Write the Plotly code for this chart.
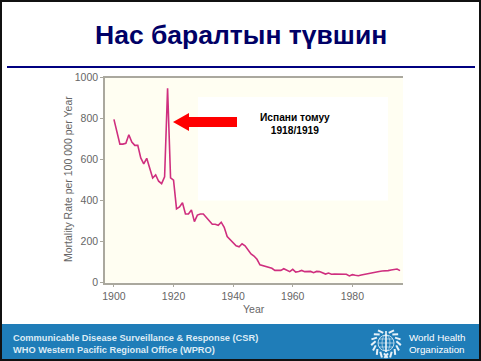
import plotly.graph_objects as go
import math

years = list(range(1900, 1997))
rate = [797, 735, 676, 676, 680, 722, 686, 670, 670, 609, 580, 607, 552, 511, 526, 495, 483, 516, 948,
        511, 500, 360, 370, 390, 335, 335, 355, 298, 330, 335, 335, 320, 300, 285, 285, 280, 295, 270, 225,
        210, 195, 180, 175, 190, 180, 160, 140, 130, 114, 87, 82, 78, 75, 70, 60, 59, 60, 68, 60,
        54, 65, 52, 55, 60, 54, 54, 55, 49, 55, 54, 47, 42, 47, 41, 42, 42, 44, 41, 41,
        33, 39, 36, 34, 38, 41, 44, 49, 52, 55, 55, 57, 57, 59, 62, 65, 67, 59]

x_ticks = [1900, 1920, 1940, 1960, 1980]
y_ticks = [0, 200, 400, 600, 800, 1000]
title = "Нас баралтын түвшин"
note = "Испани томуу<br>1918/1919"
x_label = "Year"
y_label = "Mortality Rate per 100 000 per Year"
footer = "Communicable Disease Surveillance & Response (CSR)<br>WHO Western Pacific Regional Office (WPRO)"
org_lines = ["World Health", "Organization"]

W, H = 481, 361
def px(v): return v / W
def py(v): return 1 - v / H

shapes = []
def rect(x0, y0, x1, y1, fill, line=None, width=0, layer="above"):
    shapes.append(dict(type="rect", xref="paper", yref="paper", x0=px(x0), x1=px(x1), y0=py(y0), y1=py(y1),
                       fillcolor=fill, line=dict(color=line or fill, width=width), layer=layer))

# slide frame, white panel in the plot, title rule, footer band
rect(1, 1, 480, 360, "rgba(0,0,0,0)", "#111111", 2, "below")
rect(198, 97, 388, 200.5, "#ffffff", layer="below")
shapes.append(dict(type="line", xref="paper", yref="paper", x0=px(7), x1=px(475), y0=py(67), y1=py(67),
                   line=dict(color="#000080", width=2)))
rect(2, 324, 479, 359, "#1f7db8")

# arrow
arrow = [(173, 122), (189, 113), (189, 117), (237, 117), (237, 127), (189, 127), (189, 131)]
shapes.append(dict(type="path", xref="paper", yref="paper",
                   path="M " + " L ".join(f"{px(a):.5f},{py(b):.5f}" for a, b in arrow) + " Z",
                   fillcolor="#ff0000", line=dict(width=0)))

# emblem
cx, cy = 386, 343
emblem = "#e8f2f9"
def circle(rx, ry, width):
    shapes.append(dict(type="circle", xref="paper", yref="paper", x0=px(cx-rx), x1=px(cx+rx), y0=py(cy-ry), y1=py(cy+ry),
                       line=dict(color=emblem, width=width)))
def seg(x0, y0, x1, y1, width, color=emblem):
    shapes.append(dict(type="line", xref="paper", yref="paper", x0=px(x0), x1=px(x1), y0=py(y0), y1=py(y1),
                       line=dict(color=color, width=width)))
circle(8, 8, 0.8)
circle(4, 8, 0.6)
seg(cx, cy-12, cx, cy+9, 1.5, "#ffffff")
seg(cx-8, cy, cx+8, cy, 0.6)
seg(cx-7, cy-4, cx+7, cy-4, 0.6)
seg(cx-7, cy+4, cx+7, cy+4, 0.6)
for s in (-1, 1):
    for k in range(8):
        a = math.radians(-75 + k * 22)
        x0 = cx + s * 10.5 * math.cos(a); y0 = cy + 10.5 * math.sin(a)
        x1 = cx + s * 15 * math.cos(a + 0.3); y1 = cy + 15 * math.sin(a + 0.3)
        seg(x0, y0, x1, y1, 2)

font = "Liberation Sans, Arial, sans-serif"
annotations = [
    dict(text=f"<b>{title}</b>", x=px(241), y=py(35), font=dict(size=26.5, color="#000066", family=font), xanchor="center"),
    dict(text=f"<b>{note}</b>", x=px(295), y=py(124), font=dict(size=10.2, color="#000000", family=font), xanchor="center"),
    dict(text=x_label, x=px(254), y=py(309), font=dict(size=10.5, color="#666666", family=font), xanchor="center"),
    dict(text=y_label, x=px(68), y=py(179), textangle=-90, font=dict(size=10.5, color="#666666", family=font), xanchor="center"),
    dict(text=f"<b>{footer}</b>", x=px(11), y=py(343.5), align="left", font=dict(size=9.25, color="#dcebf5", family=font), xanchor="left"),
    dict(text=org_lines[0], x=px(407), y=py(337.5), align="left", font=dict(size=9.8, color="#ffffff", family=font), xanchor="left"),
    dict(text=org_lines[1], x=px(407), y=py(349), align="left", font=dict(size=9.8, color="#ffffff", family=font), xanchor="left"),
]
for a in annotations:
    a.update(xref="paper", yref="paper", yanchor="middle", showarrow=False)

fig = go.Figure(go.Scatter(x=years, y=rate, mode="lines", line=dict(color="#cf2f7f", width=1.6), hoverinfo="skip"))
axis_font = dict(size=10.5, color="#666666", family=font)
fig.update_layout(
    width=W, height=H, margin=dict(l=0, r=0, t=0, b=0, autoexpand=False), showlegend=False,
    paper_bgcolor="#ffffff", plot_bgcolor="#fffef2",
    shapes=shapes, annotations=annotations,
    xaxis=dict(domain=[px(105), px(403)], range=[1897, 1997], tickvals=x_ticks, showgrid=False, zeroline=False,
               showline=True, mirror=True, linecolor="#aaa89e", linewidth=1.5, ticks="outside", ticklen=3,
               tickcolor="#aaa89e", tickfont=axis_font),
    yaxis=dict(domain=[py(282.7), py(77.7)], range=[0, 1000], tickvals=y_ticks, showgrid=False, zeroline=False,
               showline=True, linecolor="#aaa89e", linewidth=1.5, ticks="outside", ticklen=3,
               tickcolor="#aaa89e", tickfont=axis_font),
)
fig.write_html("out.html", post_script="document.body.style.margin='0';", config=dict(displayModeBar=False))
